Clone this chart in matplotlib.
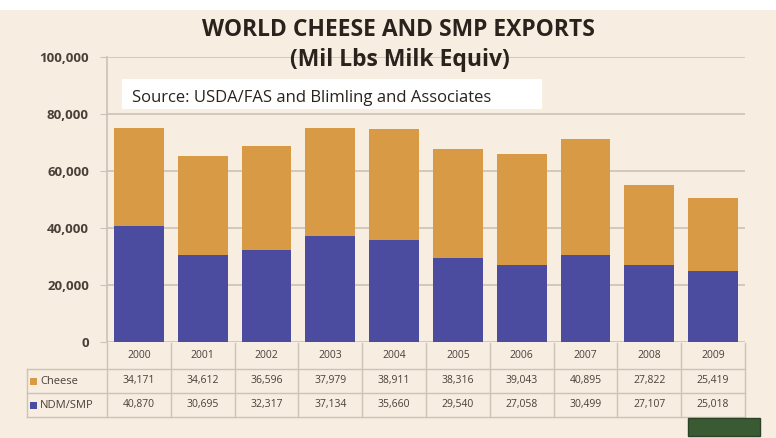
import numpy as np
import matplotlib.pyplot as plt
from matplotlib.patches import Rectangle

# datos
years = ['2000', '2001', '2002', '2003', '2004', '2005', '2006', '2007', '2008', '2009']
cheese = [34171, 34612, 36596, 37979, 38911, 38316, 39043, 40895, 27822, 25419]
ndm_smp = [40870, 30695, 32317, 37134, 35660, 29540, 27058, 30499, 27107, 25018]
series_names = ['Cheese', 'NDM/SMP']
yticks = [0, 20000, 40000, 60000, 80000, 100000]

bg = '#f8ede1'
c_cheese = '#d99a45'
c_ndm = '#4b4b9f'
grid_c = '#cbc2b8'
txt_c = '#4a4038'

W, H = 776, 438
fig = plt.figure(figsize=(W / 100, H / 100), dpi=100)
fig.patch.set_facecolor(bg)
plt.rcParams['font.family'] = ['Open Sans', 'DejaVu Sans']

# franja blanca superior
fig.patches.append(Rectangle((0, 1 - 10 / H), 1, 10 / H, transform=fig.transFigure,
                             facecolor='white', edgecolor='none', zorder=0))

ax_l, ax_r, ax_b, ax_t = 107, 745, 342, 57
ax = fig.add_axes([ax_l / W, 1 - ax_b / H, (ax_r - ax_l) / W, (ax_b - ax_t) / H])
ax.set_facecolor(bg)

x = np.arange(len(years))
ax.bar(x, ndm_smp, width=0.78, color=c_ndm, zorder=3)
ax.bar(x, cheese, width=0.78, bottom=ndm_smp, color=c_cheese, zorder=3)

ax.set_xlim(-0.5, len(years) - 0.5)
ax.set_ylim(0, 100000)
ax.set_yticks(yticks)
ax.set_yticklabels([f'{v:,}' for v in yticks], fontsize=9.5, fontweight='bold', color=txt_c)
ax.tick_params(axis='y', length=5, color=grid_c, pad=8)
ax.set_xticks([])
ax.yaxis.grid(True, color=grid_c, linewidth=1.2, zorder=0)
for s in ['top', 'right', 'bottom']:
    ax.spines[s].set_visible(False)
ax.spines['left'].set_color(grid_c)
ax.spines['left'].set_linewidth(1.2)

# titulos
fig.text(398 / W, 1 - 30 / H, 'WORLD CHEESE AND SMP EXPORTS', ha='center', va='center',
         fontsize=16.5, fontweight='bold', color='#2a221c')
fig.text(400 / W, 1 - 60 / H, '(Mil Lbs Milk Equiv)', ha='center', va='center',
         fontsize=16.5, fontweight='bold', color='#2a221c')

# caja de fuente
fig.patches.append(Rectangle((122 / W, 1 - 109 / H), 420 / W, 30 / H, transform=fig.transFigure,
                             facecolor='white', edgecolor='none', zorder=1))
fig.text(132 / W, 1 - 98 / H, 'Source: USDA/FAS and Blimling and Associates', ha='left',
         va='center', fontsize=12, color='#2a221c', zorder=2)

# tabla de datos
slot = (ax_r - ax_l) / len(years)
rows_y = [343, 369, 393, 417]
lab_l = 27


def fy(p):
    return 1 - p / H


def fx(p):
    return p / W


line_kw = dict(color=grid_c, linewidth=1, transform=fig.transFigure)
# lineas horizontales
for r in rows_y[1:]:
    fig.add_artist(plt.Line2D([fx(lab_l), fx(ax_r)], [fy(r)] * 2, **line_kw))
# lineas verticales
for k in range(len(years) + 1):
    xx = ax_l + k * slot
    fig.add_artist(plt.Line2D([fx(xx)] * 2, [fy(rows_y[0]), fy(rows_y[3])], **line_kw))
fig.add_artist(plt.Line2D([fx(lab_l)] * 2, [fy(rows_y[1]), fy(rows_y[3])], **line_kw))

for i, yr in enumerate(years):
    cx = ax_l + (i + 0.5) * slot
    fig.text(fx(cx), fy((rows_y[0] + rows_y[1]) / 2), yr, ha='center', va='center',
             fontsize=7.5, color=txt_c)
    fig.text(fx(cx), fy((rows_y[1] + rows_y[2]) / 2), f'{cheese[i]:,}', ha='center',
             va='center', fontsize=7.5, color=txt_c)
    fig.text(fx(cx), fy((rows_y[2] + rows_y[3]) / 2), f'{ndm_smp[i]:,}', ha='center',
             va='center', fontsize=7.5, color=txt_c)

for j, (name, col) in enumerate(zip(series_names, [c_cheese, c_ndm])):
    yc = (rows_y[j + 1] + rows_y[j + 2]) / 2
    fig.patches.append(Rectangle((fx(30), fy(yc + 3.5)), 7 / W, 7 / H, transform=fig.transFigure,
                                 facecolor=col, edgecolor='none'))
    fig.text(fx(40), fy(yc), name, ha='left', va='center', fontsize=8, color=txt_c)

# logo verde
fig.patches.append(Rectangle((fx(688), fy(436)), 72 / W, 18 / H, transform=fig.transFigure,
                             facecolor='#3a5a34', edgecolor='#2a4226', zorder=2))

fig.savefig('out.png', dpi=100, facecolor=bg)
